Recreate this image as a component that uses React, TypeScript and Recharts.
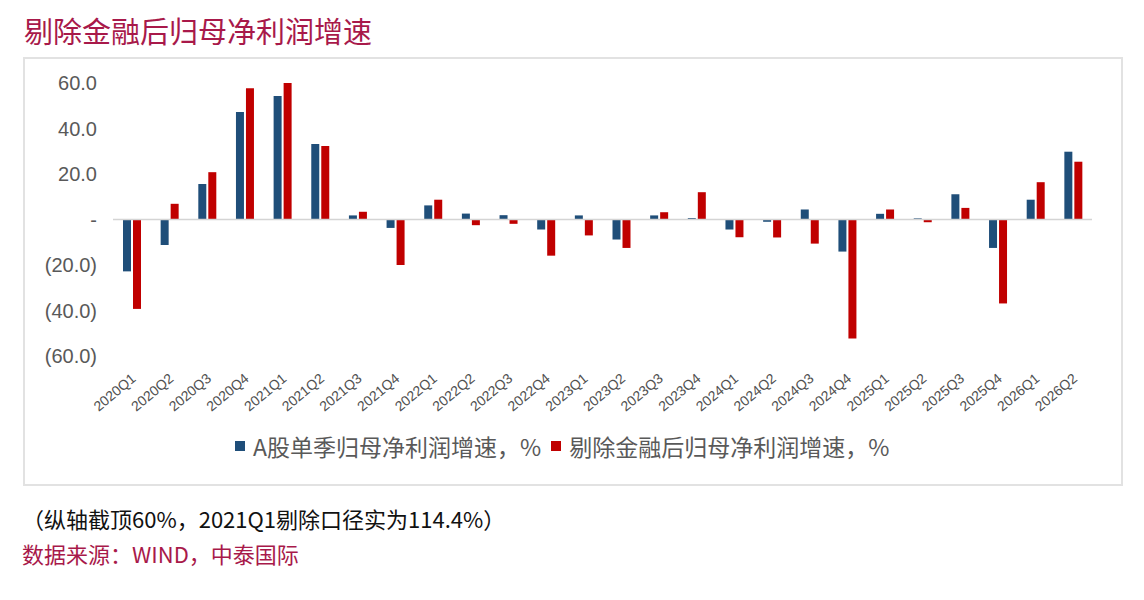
import React from 'react';
import { BarChart, Bar, XAxis, YAxis, ReferenceLine, Legend } from 'recharts';

const quarters = [
  '2020Q1', '2020Q2', '2020Q3', '2020Q4',
  '2021Q1', '2021Q2', '2021Q3', '2021Q4',
  '2022Q1', '2022Q2', '2022Q3', '2022Q4',
  '2023Q1', '2023Q2', '2023Q3', '2023Q4',
  '2024Q1', '2024Q2', '2024Q3', '2024Q4',
  '2025Q1', '2025Q2', '2025Q3', '2025Q4',
  '2026Q1', '2026Q2',
];

// A股单季归母净利润增速, %
const aShareGrowth = [
  -22.8, -11.2, 15.6, 47.3,
  54.3, 33.2, 1.8, -3.7,
  6.2, 2.6, 1.9, -4.4,
  1.8, -8.8, 1.8, 0.6,
  -4.4, -1.0, 4.4, -14.1,
  2.5, 0.5, 11.1, -12.5,
  8.7, 29.8,
];

// 剔除金融后归母净利润增速, % (2021Q1 is 114.4, axis is capped at 60)
const exFinGrowth = [
  -39.3, 6.9, 20.8, 57.7,
  114.4, 32.3, 3.4, -20.0,
  8.7, -2.5, -1.9, -15.9,
  -7.0, -12.5, 3.2, 12.0,
  -7.8, -7.9, -10.6, -52.3,
  4.4, -1.2, 5.1, -36.9,
  16.4, 25.4,
];

const yTicks = [-60, -40, -20, 0, 20, 40, 60];

const data = quarters.map((q, i) => ({
  quarter: q,
  aShare: aShareGrowth[i],
  exFin: exFinGrowth[i],
}));

const CJK = '"Noto Sans CJK SC", "Noto Sans", sans-serif';
const CRIMSON = '#a8194a';
const GREY = '#595959';

const formatY = (v: number) => {
  if (v === 0) return '-';
  if (v < 0) return `(${Math.abs(v).toFixed(1)})`;
  return v.toFixed(1);
};

const QuarterTick = (props: any) => {
  const { x, y, payload } = props;
  return (
    <g transform={`translate(${x + 5},${y + 16})`}>
      <text
        textAnchor="end"
        transform="rotate(-40)"
        fontSize={14}
        fill="#505050"
        fontFamily='"Liberation Sans", Arial, sans-serif'
      >
        {payload.value}
      </text>
    </g>
  );
};

const renderLegend = (props: any) => {
  const { payload } = props;
  return (
    <div style={{ display: 'flex', alignItems: 'center', fontFamily: CJK, fontSize: 23, color: GREY, whiteSpace: 'nowrap', lineHeight: '30px' }}>
      {payload.map((entry: any) => (
        <span key={entry.value} style={{ display: 'flex', alignItems: 'center', marginRight: 10 }}>
          <span style={{ width: 10, height: 10, background: entry.color, marginRight: 8, display: 'inline-block' }} />
          {entry.value}
        </span>
      ))}
    </div>
  );
};

const App: React.FC = () => {
  return (
    <div style={{ position: 'absolute', left: 0, top: 0, width: 1144, height: 600, background: '#ffffff' }}>
      <div
        style={{
          position: 'absolute', left: 24, top: 16, fontFamily: CJK, fontSize: 29,
          lineHeight: '29px', color: CRIMSON, whiteSpace: 'nowrap',
        }}
      >
        剔除金融后归母净利润增速
      </div>

      <div
        style={{
          position: 'absolute', left: 23, top: 57, width: 1100, height: 429,
          border: '2px solid #e2e2e2', boxSizing: 'border-box',
        }}
      />

      <div style={{ position: 'absolute', left: 23, top: 57 }}>
        <BarChart
          width={1100}
          height={429}
          data={data}
          margin={{ top: 26, right: 31, left: 0, bottom: 40 }}
          barSize={8}
          barGap={2}
        >
          <XAxis
            dataKey="quarter"
            axisLine={false}
            tickLine={false}
            interval={0}
            height={60}
            tick={<QuarterTick />}
          />
          <YAxis
            domain={[-60, 60]}
            ticks={yTicks}
            allowDataOverflow
            axisLine={false}
            tickLine={false}
            width={90}
            tickMargin={10}
            tickFormatter={formatY}
            tick={{ fontSize: 20, fill: GREY, fontFamily: '"Liberation Sans", Arial, sans-serif' }}
          />
          <ReferenceLine y={0} stroke="#d4d4d4" strokeWidth={1.5} />
          <Bar dataKey="aShare" name="A股单季归母净利润增速，%" fill="#1f4e79" isAnimationActive={false} />
          <Bar dataKey="exFin" name="剔除金融后归母净利润增速，%" fill="#c00000" isAnimationActive={false} />
          <Legend
            verticalAlign="bottom"
            content={renderLegend}
            wrapperStyle={{ left: 212, top: 374, width: 'auto' }}
          />
        </BarChart>
      </div>

      <div
        style={{
          position: 'absolute', left: 22, top: 507, fontFamily: CJK, fontSize: 22,
          lineHeight: '22px', color: '#111111', whiteSpace: 'nowrap',
        }}
      >
        （纵轴截顶60%，2021Q1剔除口径实为114.4%）
      </div>
      <div
        style={{
          position: 'absolute', left: 22, top: 542, fontFamily: CJK, fontSize: 22,
          lineHeight: '22px', color: CRIMSON, whiteSpace: 'nowrap',
        }}
      >
        数据来源：WIND，中泰国际
      </div>
    </div>
  );
};

export default App;
